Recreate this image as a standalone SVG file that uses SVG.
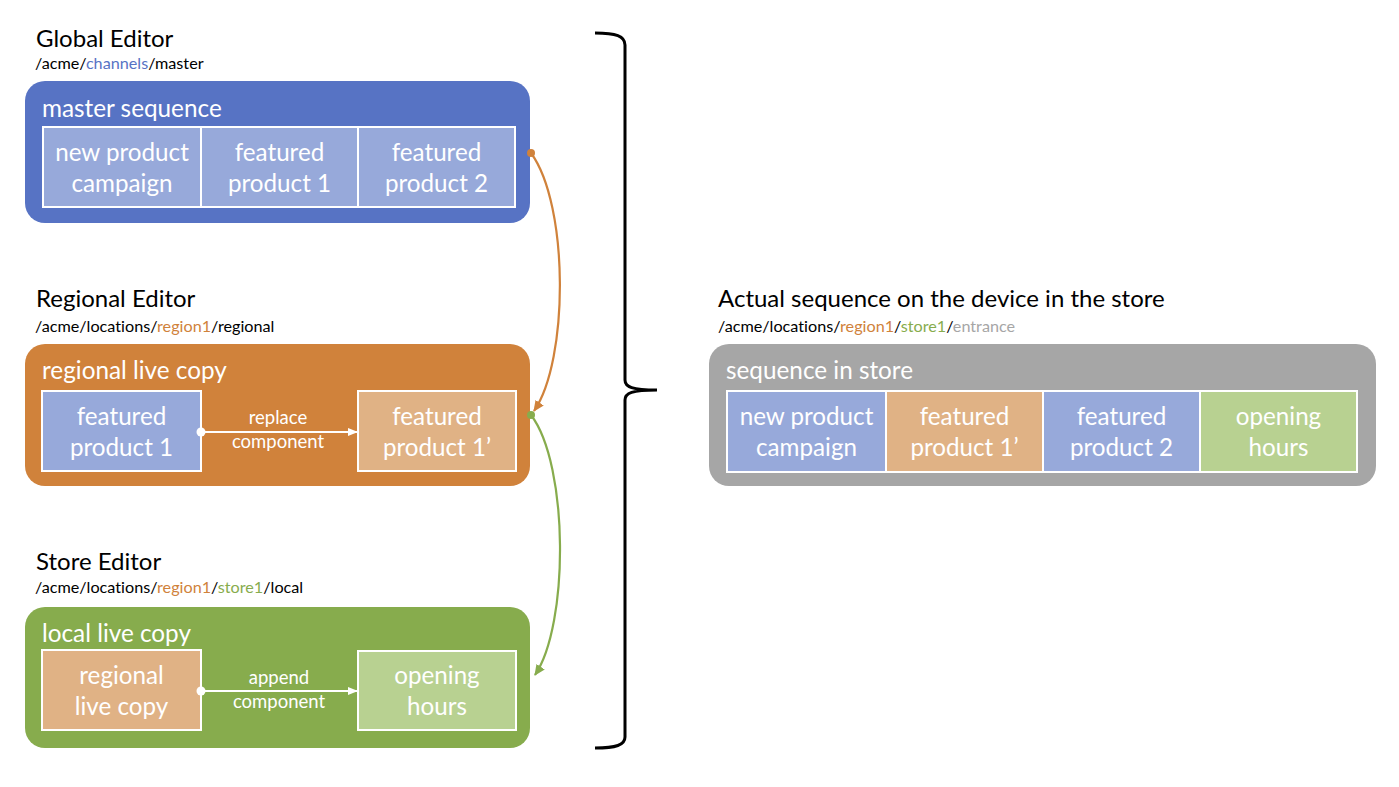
<svg xmlns="http://www.w3.org/2000/svg" width="1399" height="787" viewBox="0 0 1399 787">
<style>
text{font-family:Lato,"Open Sans","DejaVu Sans",sans-serif;font-variant-ligatures:none;font-feature-settings:"liga" 0,"dlig" 0}
.h{font-size:24px;fill:#000}
.p{font-size:16.2px;fill:#000}
.t{font-size:24.3px;fill:#fff}
.c{font-size:24.2px;fill:#fff;text-anchor:middle}
.l{font-size:18.5px;fill:#fff;text-anchor:middle}
.cell{stroke:#fff;stroke-width:2}
.lb{fill:#97A9DA}.lo{fill:#E0B285}.lg{fill:#B8D191}
.cb{fill:#5773C4}.co{fill:#D0823B}.cg{fill:#87AC4D}.cy{fill:#A6A6A6}
.bl{fill:#5773C4}.or{fill:#D0823B}.gr{fill:#87AC4D}.gy{fill:#A6A6A6}
</style>
<defs>
<marker id="wa" markerWidth="10" markerHeight="10" refX="9" refY="5" orient="auto" markerUnits="userSpaceOnUse"><path d="M0,1 L10,5 L0,9 Z" fill="#fff"/></marker>
<marker id="oa" markerWidth="12" markerHeight="12" refX="10" refY="6" orient="auto" markerUnits="userSpaceOnUse"><path d="M0,1 L11,6 L0,11 Z" fill="#D0823B"/></marker>
<marker id="ga" markerWidth="12" markerHeight="12" refX="10" refY="6" orient="auto" markerUnits="userSpaceOnUse"><path d="M0,1 L11,6 L0,11 Z" fill="#87AC4D"/></marker>
</defs>
<rect width="1399" height="787" fill="#fff"/>

<g id="global-editor">
<text class="h" x="36" y="47">Global Editor</text>
<text class="p" x="35" y="69">/acme/<tspan class="bl">channels</tspan>/master</text>
<rect class="cb" x="25" y="81" width="505" height="142" rx="20"/>
<text class="t" x="42" y="117">master sequence</text>
<rect class="cell lb" x="43" y="127" width="158" height="80"/>
<rect class="cell lb" x="201" y="127" width="157" height="80"/>
<rect class="cell lb" x="358" y="127" width="157" height="80"/>
<text class="c" x="122" y="161">new product</text>
<text class="c" x="122" y="192">campaign</text>
<text class="c" x="279.5" y="161">featured</text>
<text class="c" x="279.5" y="192">product 1</text>
<text class="c" x="436.5" y="161">featured</text>
<text class="c" x="436.5" y="192">product 2</text>
</g>

<g id="regional-editor">
<text class="h" x="36" y="307">Regional Editor</text>
<text class="p" x="35" y="332">/acme/locations/<tspan class="or">region1</tspan>/regional</text>
<rect class="co" x="25" y="344" width="505" height="142" rx="20"/>
<text class="t" x="42" y="379">regional live copy</text>
<rect class="cell lb" x="42" y="391" width="159" height="80"/>
<rect class="cell lo" x="358" y="391" width="158" height="80"/>
<text class="c" x="121.5" y="425">featured</text>
<text class="c" x="121.5" y="456">product 1</text>
<text class="c" x="437" y="425">featured</text>
<text class="c" x="437" y="456">product 1’</text>
<line x1="201" y1="432" x2="357" y2="432" stroke="#fff" stroke-width="2.2" marker-end="url(#wa)"/>
<circle cx="201" cy="432" r="4.5" fill="#fff"/>
<text class="l" x="278" y="424">replace</text>
<text class="l" x="278" y="448">component</text>
</g>

<g id="store-editor">
<text class="h" x="36" y="570">Store Editor</text>
<text class="p" x="35" y="593">/acme/locations/<tspan class="or">region1</tspan>/<tspan class="gr">store1</tspan>/local</text>
<rect class="cg" x="25" y="607" width="505" height="141" rx="20"/>
<text class="t" x="42" y="642">local live copy</text>
<rect class="cell lo" x="42" y="650" width="159" height="80"/>
<rect class="cell lg" x="358" y="651" width="158" height="79"/>
<text class="c" x="121.5" y="684">regional</text>
<text class="c" x="121.5" y="715">live copy</text>
<text class="c" x="437" y="684">opening</text>
<text class="c" x="437" y="715">hours</text>
<line x1="201" y1="691" x2="357" y2="691" stroke="#fff" stroke-width="2.2" marker-end="url(#wa)"/>
<circle cx="201" cy="691" r="4.5" fill="#fff"/>
<text class="l" x="279" y="684">append</text>
<text class="l" x="279" y="708">component</text>
</g>

<g id="store-device">
<text class="h" x="718" y="307">Actual sequence on the device in the store</text>
<text class="p" x="718" y="332">/acme/locations/<tspan class="or">region1</tspan>/<tspan class="gr">store1</tspan>/<tspan class="gy">entrance</tspan></text>
<rect class="cy" x="709" y="344" width="667" height="142" rx="20"/>
<text class="t" x="726" y="379">sequence in store</text>
<rect class="cell lb" x="727" y="391" width="159" height="81"/>
<rect class="cell lo" x="886" y="391" width="157" height="81"/>
<rect class="cell lb" x="1043" y="391" width="157" height="81"/>
<rect class="cell lg" x="1200" y="391" width="157" height="81"/>
<text class="c" x="806.5" y="425">new product</text>
<text class="c" x="806.5" y="456">campaign</text>
<text class="c" x="964.5" y="425">featured</text>
<text class="c" x="964.5" y="456">product 1’</text>
<text class="c" x="1121.5" y="425">featured</text>
<text class="c" x="1121.5" y="456">product 2</text>
<text class="c" x="1278.5" y="425">opening</text>
<text class="c" x="1278.5" y="456">hours</text>
</g>

<g id="connectors" fill="none">
<path d="M531,153 C569,205 569,360 534,411" stroke="#D0823B" stroke-width="2.2" marker-end="url(#oa)"/>
<circle cx="531" cy="153" r="4" fill="#D0823B"/>
<path d="M531,415 C569,465 569,625 535,675" stroke="#87AC4D" stroke-width="2.2" marker-end="url(#ga)"/>
<circle cx="531" cy="415" r="4" fill="#87AC4D"/>
<path d="M595,33 C616,33 625,36 625,45 L625,380 C625,387 632,390 657,390 C632,390 625,393 625,400 L625,737 C625,745 616,748 595,748" stroke="#000" stroke-width="3"/>
</g>
</svg>
